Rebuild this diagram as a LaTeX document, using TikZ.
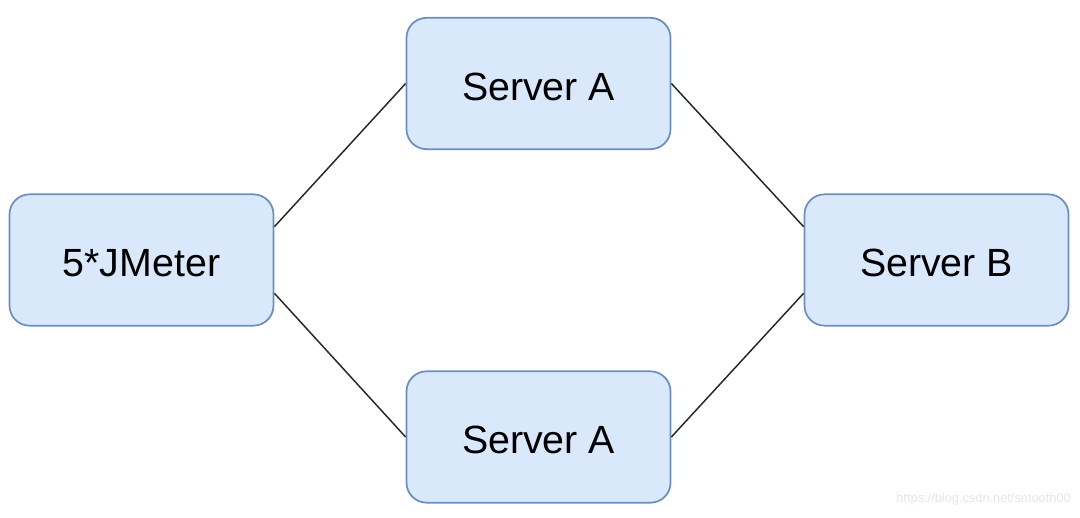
\documentclass[tikz,border=0pt]{standalone}
\usepackage{fontspec}
\setmainfont{Liberation Sans}
\usetikzlibrary{calc}
\definecolor{boxfill}{HTML}{DAE8FC}
\definecolor{boxline}{HTML}{6C8EBF}
\begin{document}
\begin{tikzpicture}[x=0.75pt,y=-0.75pt,
  srv/.style={draw=boxline,fill=boxfill,line width=1.3pt,rounded corners=15pt,
    minimum width=198pt,minimum height=98.5pt,text height=25pt,text depth=0pt,
    font=\fontsize{29.5}{34}\selectfont},
  link/.style={draw=black!85,line width=1.1pt}]
 \useasboundingbox (0,0) rectangle (1080,517);
 \node[srv] (jm) at (141.5,260) {5*JMeter};
 \node[srv] (sa1) at (538.5,83.5) {Server A};
 \node[srv] (sa2) at (538.5,437) {Server A};
 \node[srv] (sb) at (936.5,260) {Server B};
 \draw[link] ($(jm.north east)!.25!(jm.south east)$) -- (sa1.west);
 \draw[link] ($(jm.north east)!.75!(jm.south east)$) -- (sa2.west);
 \draw[link] (sa1.east) -- ($(sb.north west)!.25!(sb.south west)$);
 \draw[link] (sa2.east) -- ($(sb.north west)!.75!(sb.south west)$);
 \node[anchor=east,text=black!10,font=\fontsize{9.6}{11}\selectfont,inner sep=0pt] (wm) at (1071,499) {https://blog.csdn.net/smooth00};
\end{tikzpicture}
\end{document}
